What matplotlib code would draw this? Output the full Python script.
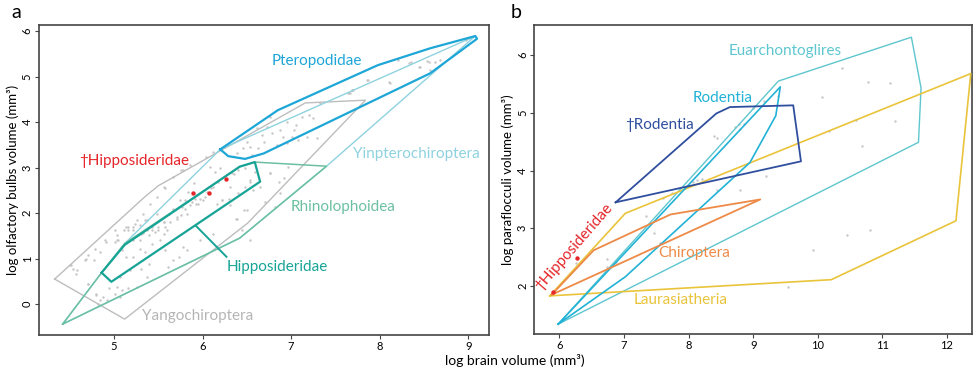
import matplotlib
matplotlib.use("Agg")
import matplotlib.pyplot as plt
import numpy as np

plt.rcParams['font.family'] = ['Lato', 'DejaVu Sans']

# ---------------- panel a : olfactory bulbs vs brain ----------------
yango_x = [4.33, 5.12, 6.51, 7.84, 7.16, 5.50, 5.35, 4.33]
yango_y = [0.55, -0.33, 1.78, 4.48, 4.42, 2.60, 2.36, 0.55]
yinpt_x = [4.42, 4.86, 5.12, 6.20, 9.08, 7.40, 6.42, 4.42]
yinpt_y = [-0.44, 0.69, 1.33, 3.40, 5.89, 3.03, 1.45, -0.44]
rhino_x = [4.42, 6.42, 7.40, 6.59, 6.42, 5.12, 4.86, 4.42]
rhino_y = [-0.44, 1.45, 3.03, 3.12, 3.02, 1.33, 0.69, -0.44]
hippo_x = [4.86, 4.97, 6.65, 6.59, 6.42, 5.12, 4.86]
hippo_y = [0.69, 0.49, 2.69, 3.12, 3.02, 1.30, 0.69]
ptero_x = [6.20, 6.29, 6.48, 6.69, 8.57, 9.10, 9.08, 8.57, 7.98, 6.85, 6.20]
ptero_y = [3.40, 3.25, 3.19, 3.31, 5.07, 5.83, 5.89, 5.62, 5.25, 4.26, 3.40]
hippo_leader_x = [5.93, 6.27]
hippo_leader_y = [1.71, 1.04]

fossil_a_x = [5.89, 6.07, 6.26]
fossil_a_y = [2.45, 2.43, 2.74]

pts_a_x = [4.50, 4.54, 4.58, 4.67, 4.71, 4.79, 4.84, 4.77, 4.71, 4.80, 4.88, 4.94,
           5.03, 5.07, 5.16, 4.90, 5.01, 5.03, 5.11, 5.16, 5.22, 5.24, 5.29, 5.35,
           5.31, 5.37, 5.43, 5.46, 5.50, 5.56, 5.56, 5.39, 5.22, 5.09, 5.14, 5.22,
           5.29, 5.35, 5.43, 5.52, 5.58, 5.39, 5.31, 5.37, 5.18, 5.07,
           6.08, 6.14, 6.20, 5.90, 5.84, 5.97, 6.03, 5.93, 5.86, 5.80, 5.76, 5.71,
           5.63, 5.58, 5.50, 6.16, 6.22, 6.31, 6.39, 6.50, 6.33, 6.40, 6.54, 6.57,
           6.65, 6.71, 6.82, 6.76, 6.86, 6.30, 5.75, 5.67, 5.78, 5.73, 6.54, 6.44,
           5.78, 5.67, 5.58, 6.10,
           6.95, 7.12, 7.20, 7.25, 7.06, 7.03, 7.01, 6.91, 6.88, 6.78, 6.67, 6.69,
           6.63, 6.54, 6.50, 6.46, 6.84, 6.95, 7.08, 7.18, 7.29, 7.69, 7.65, 7.33,
           6.76, 6.73, 6.61, 6.39, 6.56, 6.48, 6.59,
           8.21, 8.33, 8.46, 8.54, 8.63, 8.68, 8.57, 7.87, 8.12, 7.70, 7.67,
           8.35, 8.56, 8.44, 8.11, 7.86, 7.64, 7.69, 8.97, 9.01,
           6.76, 6.96, 6.92, 6.87, 6.47, 6.38, 6.12, 5.97, 5.82, 5.67, 5.61, 5.26,
           5.09, 5.01, 4.92, 4.82,
           5.56, 5.48, 5.41, 5.33, 5.26, 5.14, 5.03, 5.76, 5.86, 6.04, 6.12,
           4.52, 4.57, 4.68, 4.71, 4.80, 4.84, 4.91, 5.01, 5.04, 5.16, 5.22, 5.29,
           5.33, 5.37, 5.43, 5.48, 5.56, 5.60, 5.62, 5.67, 5.71, 5.77, 5.80, 5.82,
           5.88, 5.92, 5.95, 6.01, 6.05, 6.12, 6.18, 6.22, 6.31, 6.35, 6.40, 6.48,
           6.54]
pts_a_y = [0.86, 0.78, 0.75, 0.97, 1.08, 1.22, 1.15, 0.97, 0.44, 0.20, 0.16, 0.35,
           0.38, 0.16, 0.35, 1.41, 1.37, 1.52, 1.63, 1.70, 1.63, 1.77, 1.74, 1.85,
           1.55, 1.63, 1.70, 1.59, 1.70, 1.81, 1.55, 1.52, 1.41, 1.19, 1.04, 1.04,
           1.22, 1.15, 1.33, 1.41, 1.19, 0.89, 0.78, 0.60, 0.75, 0.60,
           3.02, 2.91, 2.98, 2.65, 2.47, 2.32, 2.36, 2.21, 2.18, 2.10, 1.96, 1.88,
           1.81, 1.70, 1.63, 2.21, 2.29, 2.18, 1.88, 2.07, 2.87, 2.95, 2.69, 2.51,
           2.58, 2.25, 2.14, 2.87, 2.69, 2.30, 2.29, 2.07, 1.26, 1.04, 1.41, 1.63,
           2.95, 2.80, 2.54, 2.54,
           4.01, 4.12, 4.15, 4.08, 3.93, 3.82, 3.68, 3.68, 3.82, 3.75, 3.71, 3.57,
           3.42, 3.46, 3.57, 3.42, 3.49, 3.53, 3.60, 3.68, 3.64, 4.70, 4.63, 4.41,
           4.12, 3.90, 3.86, 3.31, 3.27, 2.98, 2.91,
           5.36, 5.29, 5.22, 5.34, 5.33, 5.36, 5.14, 4.92, 4.85, 4.70, 4.63,
           5.33, 5.33, 5.22, 4.89, 4.92, 4.64, 4.70, 5.80, 5.84,
           2.87, 3.02, 2.76, 2.43, 2.06, 1.88, 1.55, 1.40, 1.18, 0.96, 0.81, 0.37,
           0.30, 0.23, 0.08, 0.01,
           2.58, 2.36, 2.21, 1.99, 1.84, 1.69, 1.40, 2.94, 3.05, 3.24, 3.35,
           0.85, 0.67, 1.00, 0.45, 0.23, 0.08, 1.36, 1.62, 1.40, 1.62, 1.69, 1.40,
           1.56, 1.84, 1.63, 1.99, 1.81, 1.63, 1.99, 2.10, 1.91, 2.13, 2.28, 1.99,
           2.24, 2.32, 2.21, 2.28, 2.46, 2.57, 2.68, 2.28, 2.57, 2.86, 2.43, 2.57,
           2.72]

# ---------------- panel b : paraflocculi vs brain ----------------
euarch_x = [5.98, 9.39, 11.45, 11.60, 11.56, 5.98]
euarch_y = [1.34, 5.55, 6.31, 5.43, 4.49, 1.34]
rodent_x = [5.98, 7.02, 8.95, 9.35, 9.42, 5.98]
rodent_y = [1.34, 2.16, 4.14, 4.95, 5.45, 1.34]
frodent_x = [6.87, 8.43, 8.64, 9.62, 9.74, 6.87]
frodent_y = [3.45, 4.99, 5.10, 5.13, 4.16, 3.45]
laura_x = [5.85, 7.02, 12.37, 12.14, 10.21, 5.85]
laura_y = [1.83, 3.26, 5.68, 3.13, 2.11, 1.83]
chiro_x = [5.88, 6.53, 7.72, 9.11, 5.88]
chiro_y = [1.85, 2.62, 3.24, 3.50, 1.85]

fossil_b_x = [5.90, 6.27]
fossil_b_y = [1.89, 2.48]

pts_b_x = [10.37, 10.78, 11.12, 10.06, 11.19, 10.69, 9.39, 9.17, 9.00, 8.72, 8.78,
           8.85, 8.80, 8.44, 8.40, 9.20, 8.80, 8.44, 8.07, 8.13, 8.20, 7.75, 7.61,
           7.34, 7.47, 7.56, 6.73, 6.88, 6.74, 6.26, 9.92, 10.46, 10.81, 9.54,
           10.59, 10.18]
pts_b_y = [5.78, 5.53, 5.51, 5.28, 4.86, 4.42, 5.29, 5.21, 5.09, 4.76, 4.81, 4.80,
           4.72, 4.57, 4.60, 3.90, 3.66, 3.66, 3.80, 3.83, 3.85, 3.61, 3.52, 3.21,
           2.91, 2.75, 2.47, 2.42, 2.33, 2.40, 2.62, 2.89, 2.97, 1.98, 4.87, 4.69]

RED = '#e5262b'
PT = '#c6c6c6'

fig = plt.figure(figsize=(9.75, 3.69), dpi=100)
ax1 = fig.add_axes([0.040, 0.092, 0.462, 0.840])
ax2 = fig.add_axes([0.548, 0.095, 0.449, 0.837])

# panel a
ax1.scatter(pts_a_x, pts_a_y, s=3, color=PT, lw=0, zorder=1)
ax1.plot(yango_x, yango_y, color='#bdbdbd', lw=1.0, zorder=2)
ax1.plot(yinpt_x, yinpt_y, color='#8fd2df', lw=1.0, zorder=3)
ax1.plot(rhino_x, rhino_y, color='#6cc0a2', lw=1.1, zorder=4)
ax1.plot(hippo_x, hippo_y, color='#17a496', lw=1.6, zorder=5)
ax1.plot(hippo_leader_x, hippo_leader_y, color='#17a496', lw=1.4, zorder=5)
ax1.plot(ptero_x, ptero_y, color='#1ea6d7', lw=1.6, zorder=5)
ax1.scatter(fossil_a_x, fossil_a_y, s=10, color=RED, lw=0, zorder=6)

lab = dict(fontsize=11, ha='center', va='center')
ax1.text(7.29, 5.34, 'Pteropodidae', color='#1ea6d7', **lab)
ax1.text(8.42, 3.30, 'Yinpterochiroptera', color='#8fd2df', **lab)
ax1.text(7.59, 2.13, 'Rhinolophoidea', color='#6cc0a2', **lab)
ax1.text(6.84, 0.81, 'Hipposideridae', color='#17a496', **lab)
ax1.text(5.23, 3.14, '†Hipposideridae', color=RED, **lab)
ax1.text(5.94, -0.26, 'Yangochiroptera', color='#b5b5b5', **lab)

ax1.set_xlim(4.153, 9.24)
ax1.set_ylim(-0.68, 6.13)
ax1.set_xticks([5, 6, 7, 8, 9])
ax1.set_yticks([0, 1, 2, 3, 4, 5, 6])
ax1.set_ylabel('log olfactory bulbs volume (mm³)', fontsize=9.5, labelpad=2)

# panel b
ax2.scatter(pts_b_x, pts_b_y, s=3, color=PT, lw=0, zorder=1)
ax2.plot(euarch_x, euarch_y, color='#5ec6cf', lw=1.0, zorder=2)
ax2.plot(laura_x, laura_y, color='#e9c43b', lw=1.2, zorder=3)
ax2.plot(rodent_x, rodent_y, color='#22b2d6', lw=1.2, zorder=4)
ax2.plot(frodent_x, frodent_y, color='#2f4f9e', lw=1.3, zorder=4)
ax2.plot(chiro_x, chiro_y, color='#ee8a47', lw=1.3, zorder=4)
ax2.scatter(fossil_b_x, fossil_b_y, s=10, color=RED, lw=0, zorder=6)

ax2.text(9.49, 6.07, 'Euarchontoglires', color='#5ec6cf', **lab)
ax2.text(8.53, 5.25, 'Rodentia', color='#22b2d6', **lab)
ax2.text(7.55, 4.79, '†Rodentia', color='#2f4f9e', **lab)
ax2.text(8.09, 2.58, 'Chiroptera', color='#ee8a47', **lab)
ax2.text(7.87, 1.75, 'Laurasiatheria', color='#e9c43b', **lab)
ax2.text(6.22, 2.67, '†Hipposideridae', color=RED, rotation=49,
         rotation_mode='anchor', **lab)

ax2.set_xlim(5.61, 12.39)
ax2.set_ylim(1.17, 6.52)
ax2.set_xticks([6, 7, 8, 9, 10, 11, 12])
ax2.set_yticks([2, 3, 4, 5, 6])
ax2.set_ylabel('log paraflocculi volume (mm³)', fontsize=9.5, labelpad=2)

for ax in (ax1, ax2):
    for s in ax.spines.values():
        s.set_color('#444444')
        s.set_linewidth(1.2)
    ax.tick_params(labelsize=8, length=3, width=0.8, color='#444444', pad=1.5)
    for t in ax.get_yticklabels():
        t.set_rotation(90)
        t.set_va('center')

fig.text(0.528, 0.024, 'log brain volume (mm³)', fontsize=10, ha='center', va='center')
fig.text(0.012, 0.965, 'a', fontsize=14, ha='left', va='center')
fig.text(0.524, 0.965, 'b', fontsize=14, ha='left', va='center')

fig.savefig('out.png', dpi=100)
